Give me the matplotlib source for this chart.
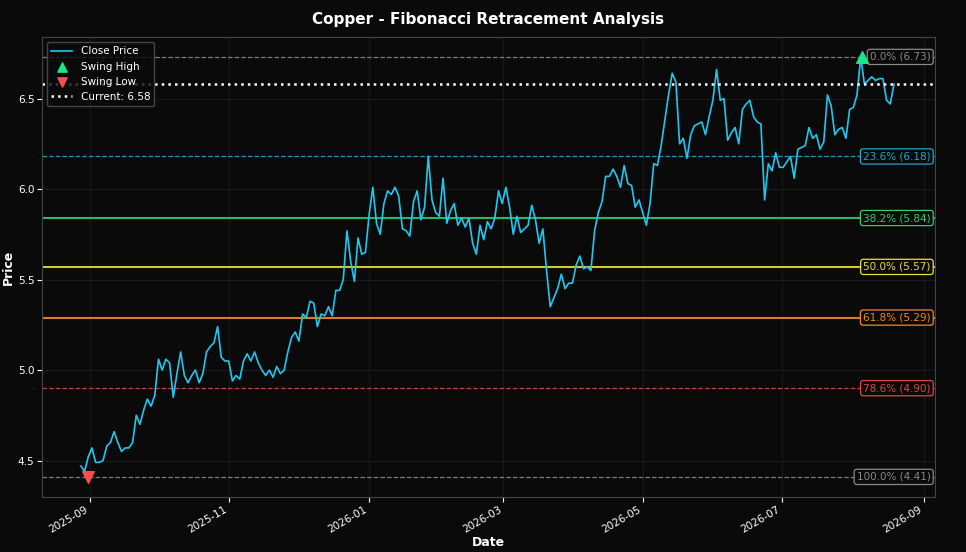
import matplotlib
matplotlib.use("Agg")
import matplotlib.pyplot as plt
import matplotlib.dates as mdates
import pandas as pd

close = [4.47,4.44,4.52,4.57,4.49,4.49,4.50,4.58,4.60,4.66,4.60,4.55,4.57,4.57,4.60,4.75,4.70,4.78,4.84,4.80,4.86,5.06,5.00,5.06,5.04,4.85,4.98,5.10,4.97,4.93,4.97,5.00,4.93,4.98,5.10,5.13,5.15,5.24,5.07,5.05,5.05,4.94,4.97,4.95,5.05,5.09,5.05,5.10,5.04,5.00,4.97,5.00,4.96,5.02,4.98,5.00,5.10,5.18,5.21,5.16,5.31,5.29,5.38,5.37,5.24,5.31,5.30,5.35,5.30,5.44,5.44,5.50,5.77,5.60,5.49,5.73,5.64,5.65,5.86,6.01,5.81,5.75,5.92,5.99,5.97,6.01,5.96,5.78,5.77,5.74,5.93,5.99,5.83,5.90,6.18,5.94,5.87,5.85,6.06,5.81,5.88,5.92,5.80,5.84,5.79,5.84,5.70,5.64,5.80,5.72,5.82,5.78,5.84,5.99,5.92,6.01,5.90,5.75,5.85,5.76,5.78,5.80,5.91,5.83,5.70,5.78,5.55,5.35,5.40,5.45,5.53,5.45,5.48,5.48,5.58,5.63,5.56,5.57,5.55,5.77,5.87,5.93,6.07,6.07,6.11,6.07,6.01,6.13,6.03,6.02,5.90,5.94,5.87,5.80,5.92,6.14,6.13,6.24,6.38,6.52,6.64,6.59,6.25,6.28,6.17,6.30,6.35,6.36,6.37,6.30,6.40,6.49,6.66,6.49,6.50,6.27,6.31,6.34,6.25,6.44,6.47,6.49,6.40,6.37,6.36,5.94,6.14,6.10,6.20,6.12,6.12,6.15,6.18,6.06,6.22,6.23,6.24,6.34,6.28,6.30,6.22,6.26,6.52,6.46,6.30,6.33,6.34,6.28,6.44,6.45,6.52,6.73,6.58,6.60,6.62,6.60,6.61,6.61,6.49,6.47,6.58]
dates = pd.date_range("2025-08-28", "2026-08-19", periods=len(close))

swing_high_date, swing_high = pd.Timestamp("2026-08-05"), 6.73
swing_low_date, swing_low = pd.Timestamp("2025-08-31"), 4.41
current = 6.58
fib_levels = ["0.0%", "23.6%", "38.2%", "50.0%", "61.8%", "78.6%", "100.0%"]
fib_values = [6.73, 6.18, 5.84, 5.57, 5.29, 4.90, 4.41]
fib_colors = ["#888888", "#1fa8c9", "#2ecc71", "#e8e030", "#f08a24", "#e04545", "#888888"]
fib_styles = ["--", "--", "-", "-", "-", "--", "--"]

bg = "#0a0a0a"
fig, ax = plt.subplots(figsize=(9.66, 5.52), dpi=100)
fig.patch.set_facecolor(bg)
ax.set_facecolor(bg)
fig.subplots_adjust(left=0.0435, right=0.968, top=0.933, bottom=0.1)

for lvl, v, c, ls in zip(fib_levels, fib_values, fib_colors, fib_styles):
    ax.axhline(v, color=c, ls=ls, lw=1.5 if ls == "-" else 0.9, alpha=0.9)
    ax.text(0.995, v, f"{lvl} ({v:.2f})", transform=ax.get_yaxis_transform(),
            ha="right", va="center", fontsize=7.5, color=c,
            bbox=dict(boxstyle="round,pad=0.25", fc=bg, ec=c, lw=0.9))

ax.plot(dates, close, color="#1ec8f0", lw=1.2, label="Close Price")
ax.scatter([swing_high_date], [swing_high], marker="^", s=70, color="#19e68c", zorder=5, label="Swing High")
ax.scatter([swing_low_date], [swing_low], marker="v", s=70, color="#ff4d4d", zorder=5, label="Swing Low")
ax.axhline(current, color="white", ls=":", lw=1.8, label=f"Current: {current:.2f}")

ax.set_xlim(pd.Timestamp("2025-08-11"), pd.Timestamp("2026-09-06"))
ax.set_ylim(4.30, 6.84)
ax.set_yticks([4.5, 5.0, 5.5, 6.0, 6.5])
ax.xaxis.set_major_locator(mdates.MonthLocator(bymonth=[1, 3, 5, 7, 9, 11]))
ax.xaxis.set_major_formatter(mdates.DateFormatter("%Y-%m"))
plt.setp(ax.get_xticklabels(), rotation=30, ha="right")
ax.tick_params(colors="white", labelsize=7.5, pad=2)
for s in ax.spines.values():
    s.set_color("#444444")
ax.grid(True, color="#333333", alpha=0.5, lw=0.5)
ax.set_xlabel("Date", color="white", fontsize=9, fontweight="bold", labelpad=1)
ax.set_ylabel("Price", color="white", fontsize=9, fontweight="bold", labelpad=2)
ax.set_title("Copper - Fibonacci Retracement Analysis", color="white", fontsize=11, fontweight="bold", pad=9)
leg = ax.legend(loc="upper left", fontsize=7.5, facecolor=bg, edgecolor="#555555", labelcolor="white", markerscale=0.8)
fig.savefig("out.png", facecolor=bg)
